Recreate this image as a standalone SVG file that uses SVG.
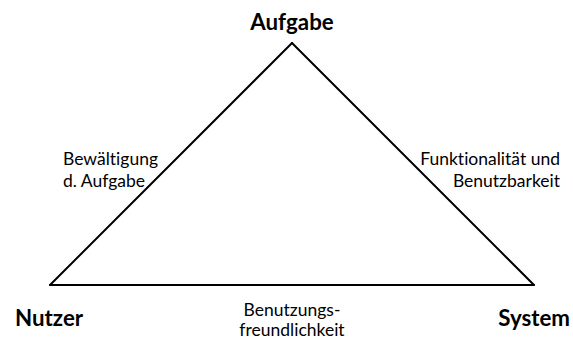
<svg xmlns="http://www.w3.org/2000/svg" width="573" height="338" viewBox="0 0 573 338">
  <style>
    text { font-variant-ligatures: none; fill: #000; }
    .corner { font-family: Lato, "Liberation Sans", sans-serif; font-weight: bold; font-size: 22.3px; }
    .edge { font-family: Lato, "Liberation Sans", sans-serif; font-size: 17.5px; }
    .side { fill: none; stroke: #000; stroke-width: 2; stroke-linecap: round; }
  </style>
  <rect width="573" height="338" fill="#fff"/>
  <!-- triangle sides -->
  <g id="connectors">
    <line class="side" x1="292" y1="43" x2="50" y2="285"/>
    <line class="side" x1="292" y1="43" x2="534" y2="285"/>
    <line class="side" x1="50" y1="285" x2="534" y2="285"/>
  </g>
  <!-- corners -->
  <g id="aufgabe"><text class="corner" x="292" y="30" text-anchor="middle">Aufgabe</text></g>
  <g id="nutzer"><text class="corner" x="15" y="326">Nutzer</text></g>
  <g id="system"><text class="corner" x="570" y="326" text-anchor="end">System</text></g>
  <!-- edge labels -->
  <g id="label-left">
    <text class="edge" x="63" y="165">Bewältigung</text>
    <text class="edge" x="63" y="187">d. Aufgabe</text>
  </g>
  <g id="label-right">
    <text class="edge" x="560" y="165" text-anchor="end">Funktionalität und</text>
    <text class="edge" x="560" y="187" text-anchor="end">Benutzbarkeit</text>
  </g>
  <g id="label-bottom">
    <text class="edge" x="292" y="316" text-anchor="middle">Benutzungs-</text>
    <text class="edge" x="292" y="336" text-anchor="middle">freundlichkeit</text>
  </g>
</svg>
